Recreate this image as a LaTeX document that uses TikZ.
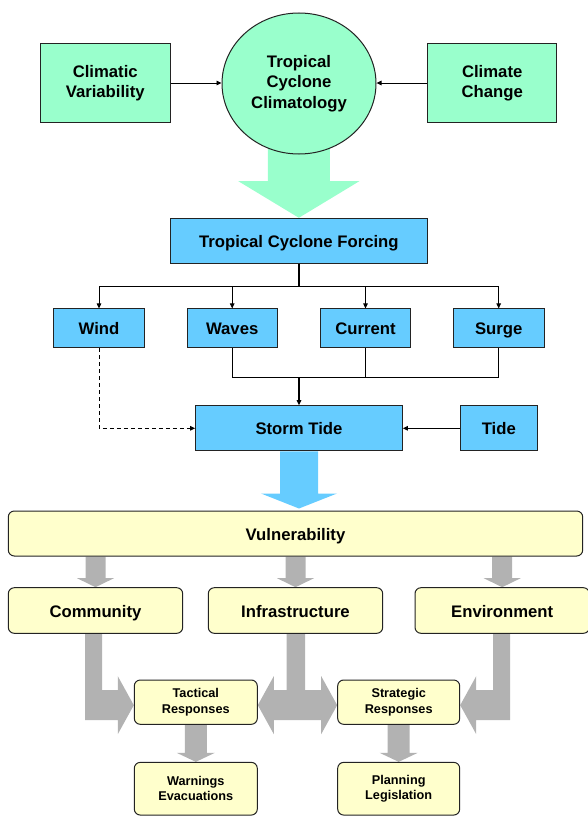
\documentclass[tikz,border=0pt]{standalone}
\usepackage{fontspec}
\setmainfont{Liberation Sans}
\usetikzlibrary{arrows.meta,calc,shapes.geometric}
\definecolor{mint}{RGB}{153,255,204}
\definecolor{skyb}{RGB}{102,204,255}
\definecolor{pale}{RGB}{255,255,204}
\definecolor{grayarr}{RGB}{178,178,178}
\definecolor{edge}{RGB}{35,35,35}
\pgfdeclarelayer{background}
\pgfsetlayers{background,main}
\newcommand{\fatarrow}[6]{%
  \fill[#1] ($(#3 |- #2)+(-#4,0)$) -- ($(#3 |- #2)+(#4,0)$) -- ($(#3)+(#4,-#6)$) -- ($(#3)+(#5,-#6)$) -- (#3) -- ($(#3)+(-#5,-#6)$) -- ($(#3)+(-#4,-#6)$) -- cycle;}
\tikzset{
  box/.style={draw=edge, line width=1pt, inner sep=0pt, align=center,
    font=\bfseries\fontsize{16.7}{20.5}\selectfont},
  oneline/.style={text height=13pt, text depth=0pt},
  mintbox/.style={box, fill=mint},
  bluebox/.style={box, fill=skyb, oneline},
  palebox/.style={box, fill=pale, rounded corners=6pt},
  smallpale/.style={palebox, font=\bfseries\fontsize{12.7}{15.3}\selectfont},
  conn/.style={line width=0.9pt, draw=black},
  arrowed/.style={-{Triangle[length=5pt,width=4.5pt]}},
}
\begin{document}
\begin{tikzpicture}[x=1pt,y=-1pt]
\useasboundingbox (0,0) rectangle (587,816);

% top row
\node[mintbox, minimum width=129.5pt, minimum height=78pt] (cv) at (105.25,83) {Climatic\\Variability};
\node[mintbox, ellipse, minimum width=154pt, minimum height=141pt] (tcc) at (299,83.5) {Tropical\\Cyclone\\Climatology};
\node[mintbox, minimum width=129pt, minimum height=78pt] (cc) at (492.2,83) {Climate\\Change};

% forcing
\node[bluebox, minimum width=257.7pt, minimum height=45pt] (tcf) at (298.85,240.8) {Tropical Cyclone Forcing};
\node[bluebox, minimum width=90.6pt, minimum height=38.7pt] (wind) at (99,328.3) {Wind};
\node[bluebox, minimum width=90.4pt, minimum height=38.7pt] (waves) at (232.2,328.3) {Waves};
\node[bluebox, minimum width=90.4pt, minimum height=38.7pt] (current) at (365.5,328.3) {Current};
\node[bluebox, minimum width=90.7pt, minimum height=38.7pt] (surge) at (498.7,328.3) {Surge};
\node[bluebox, minimum width=206.6pt, minimum height=45.3pt] (st) at (299,428.3) {Storm Tide};
\node[bluebox, minimum width=77.7pt, minimum height=45.3pt] (tide) at (498.85,428.3) {Tide};

% vulnerability
\node[palebox, oneline, minimum width=574.4pt, minimum height=45pt] (vuln) at (295.5,533.5) {Vulnerability};
\node[palebox, oneline, minimum width=174.4pt, minimum height=45.6pt] (comm) at (95.5,610.5) {Community};
\node[palebox, oneline, minimum width=174.4pt, minimum height=45.6pt] (infra) at (295.5,610.5) {Infrastructure};
\node[palebox, oneline, minimum width=174.4pt, minimum height=45.6pt] (env) at (502.2,610.5) {Environment};
\node[smallpale, minimum width=123pt, minimum height=44.3pt] (tac) at (195.8,702.15) {Tactical\\Responses};
\node[smallpale, minimum width=122pt, minimum height=44.3pt] (strat) at (398.7,702.15) {Strategic\\Responses};
\node[smallpale, minimum width=123pt, minimum height=52.7pt] (warn) at (195.8,788.7) {Warnings\\Evacuations};
\node[smallpale, minimum width=122pt, minimum height=52.7pt] (plan) at (398.7,788.7) {Planning\\Legislation};

\coordinate (btip) at ($(st.south |- vuln.north)+(0,-2)$);
\coordinate (ct) at ($(tac.west)+(0,3)$);
\coordinate (tl) at ($(tac.east)+(0,3)$);
\coordinate (tr) at ($(strat.west)+(0,3)$);
\coordinate (er) at ($(strat.east)+(0,3)$);

\begin{pgfonlayer}{background}
  \fatarrow{mint}{tcc.center}{tcf.north}{31}{60.5}{36.6}
  \fatarrow{skyb}{st.south}{btip}{19}{38}{15}
  \fatarrow{grayarr}{vuln.south}{comm.north}{10}{18.5}{9}
  \fatarrow{grayarr}{vuln.south}{infra.north}{10}{18.5}{9}
  \fatarrow{grayarr}{vuln.south}{env.north}{10}{18.5}{9}
  \fatarrow{grayarr}{tac.south}{warn.north}{11}{19}{9}
  \fatarrow{grayarr}{strat.south}{plan.north}{11}{19}{9}
  % bent arrows
  \fill[grayarr] let \p1=(comm.south), \p2=(ct) in
    (\x1-10.5pt,\y1) -- (\x1+6.5pt,\y1) -- (\x1+6.5pt,\y2+15pt) -- (\x2-16pt,\y2+15pt)
    -- (\x2-16pt,\y2+29pt) -- (\p2) -- (\x2-16pt,\y2-29pt) -- (\x2-16pt,\y2-15pt)
    -- (\x1-10.5pt,\y2-15pt) -- cycle;
  \fill[grayarr] let \p1=(infra.south), \p2=(tl), \p3=(tr) in
    (\x1-9pt,\y1) -- (\x1+9.5pt,\y1) -- (\x1+9.5pt,\y2+15pt) -- (\x3-16pt,\y2+15pt)
    -- (\x3-16pt,\y2+29pt) -- (\p3) -- (\x3-16pt,\y2-29pt) -- (\x3-16pt,\y2-15pt)
    -- (\x2+16pt,\y2-15pt) -- (\x2+16pt,\y2-29pt) -- (\p2) -- (\x2+16pt,\y2+29pt)
    -- (\x2+16pt,\y2+15pt) -- (\x1-9pt,\y2+15pt) -- cycle;
  \fill[grayarr] let \p1=(env.south), \p2=(er) in
    (\x1+7.8pt,\y1) -- (\x1-9.2pt,\y1) -- (\x1-9.2pt,\y2+15pt) -- (\x2+16pt,\y2+15pt)
    -- (\x2+16pt,\y2+29pt) -- (\p2) -- (\x2+16pt,\y2-29pt) -- (\x2+16pt,\y2-15pt)
    -- (\x1+7.8pt,\y2-15pt) -- cycle;
\end{pgfonlayer}

% thin connectors
\draw[conn, arrowed] (cv.east) -- (cv.east -| tcc.west);
\draw[conn, arrowed] (cc.west) -- (cc.west -| tcc.east);

\coordinate (fork) at ($(tcf.south)+(0,22.7)$);
\draw[conn, line width=1.7pt] (tcf.south) -- (tcf.south |- fork);
\draw[conn] (wind.north |- fork) -- (surge.north |- fork);
\foreach \n in {wind,waves,current,surge}
  \draw[conn, arrowed] (\n.north |- fork) -- (\n.north);

\coordinate (join) at ($(waves.south)+(0,29)$);
\draw[conn] (waves.south) -- (waves.south |- join) -- (surge.south |- join) -- (surge.south);
\draw[conn] (current.south) -- (current.south |- join);
\draw[conn, line width=1.7pt, arrowed] (st.north |- join) -- (st.north);
\draw[conn, arrowed] (tide.west) -- (st.east);
\draw[conn, dash pattern=on 4pt off 3pt, arrowed] (wind.south) |- (st.west);
\end{tikzpicture}
\end{document}
